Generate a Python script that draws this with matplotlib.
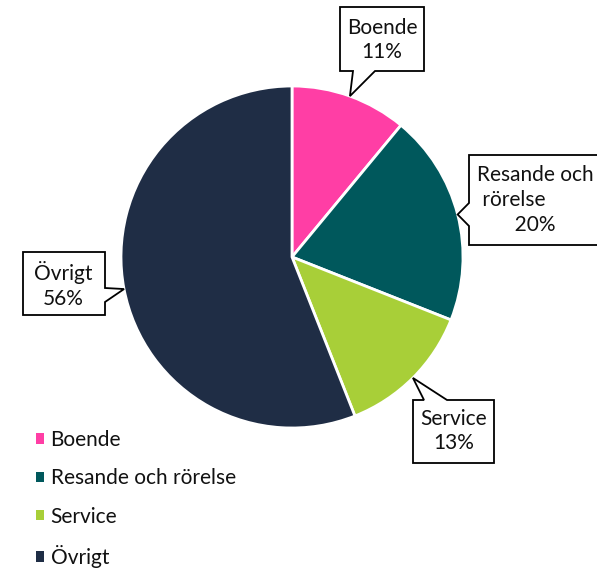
import matplotlib.pyplot as plt
from matplotlib.patches import Polygon, Patch
import numpy as np

plt.rcParams['font.family'] = ['Lato', 'DejaVu Sans']

# data
categories = ['Boende', 'Resande och rörelse', 'Service', 'Övrigt']
shares = [11, 20, 13, 56]
colors = ['#FF3EA5', '#00585C', '#A8CF38', '#1F2D45']
callout_texts = ['Boende\n11%', 'Resande och\n rörelse\n       20%', 'Service\n13%', 'Övrigt\n56%']

W, H = 597, 571
fig = plt.figure(figsize=(W / 100, H / 100), dpi=100)
ax = fig.add_axes([0, 0, 1, 1])

def Y(y):
    # image rows -> data y
    return H - y

cx, cy, r = 292, Y(257), 171
wedges, _ = ax.pie(shares, colors=colors, startangle=90, counterclock=False,
                   center=(cx, cy), radius=r,
                   wedgeprops=dict(edgecolor='white', linewidth=2))

# callout boxes: (x0, x1, ytop, ybot), notch side, notch points, text pos, alignment
boxes = [
    ((340, 424, 7, 71), 'bottom', (375, 353), (382, 40), 'center'),
    ((469, 605, 155, 245), 'left', (226, 203), (477, 200), 'left'),
    ((413, 494, 400, 463), 'top', (424, 447), (454, 431), 'center'),
    ((23, 105, 252, 315), 'right', (288, 302), (63, 285), 'center'),
]

for w, txt, (box, side, notch, tpos, ha) in zip(wedges, callout_texts, boxes):
    th = np.radians((w.theta1 + w.theta2) / 2)
    tip = (cx + r * np.cos(th), cy + r * np.sin(th))
    x0, x1, yt, yb = box
    a, b = notch
    # walk round the box, the notch goes out to the tip
    if side == 'bottom':
        pts = [(x0, yt), (x1, yt), (x1, yb), (a, yb), None, (b, yb), (x0, yb)]
    elif side == 'top':
        pts = [(x0, yt), (a, yt), None, (b, yt), (x1, yt), (x1, yb), (x0, yb)]
    elif side == 'right':
        pts = [(x0, yt), (x1, yt), (x1, a), None, (x1, b), (x1, yb), (x0, yb)]
    else:
        pts = [(x0, yt), (x1, yt), (x1, yb), (x0, yb), (x0, a), None, (x0, b)]
    verts = [tip if p is None else (p[0], Y(p[1])) for p in pts]
    ax.add_patch(Polygon(verts, closed=True, facecolor='white', edgecolor='black',
                         linewidth=1.3, zorder=3))
    ax.text(tpos[0], Y(tpos[1]), txt, ha=ha, va='center', fontsize=15,
            linespacing=1.3, color='#111111', zorder=4)

handles = [Patch(facecolor=c, edgecolor='none') for c in colors]
ax.legend(handles, categories, loc='upper left', bbox_to_anchor=(36, Y(430)),
          bbox_transform=ax.transData, frameon=False, fontsize=15,
          handlelength=0.4, handleheight=0.4, handletextpad=0.3,
          labelspacing=0.88, borderaxespad=0, borderpad=0, labelcolor='#111111')

ax.set_xlim(0, W)
ax.set_ylim(0, H)
ax.set_aspect('equal')
ax.axis('off')

fig.savefig('out.png', dpi=100)
